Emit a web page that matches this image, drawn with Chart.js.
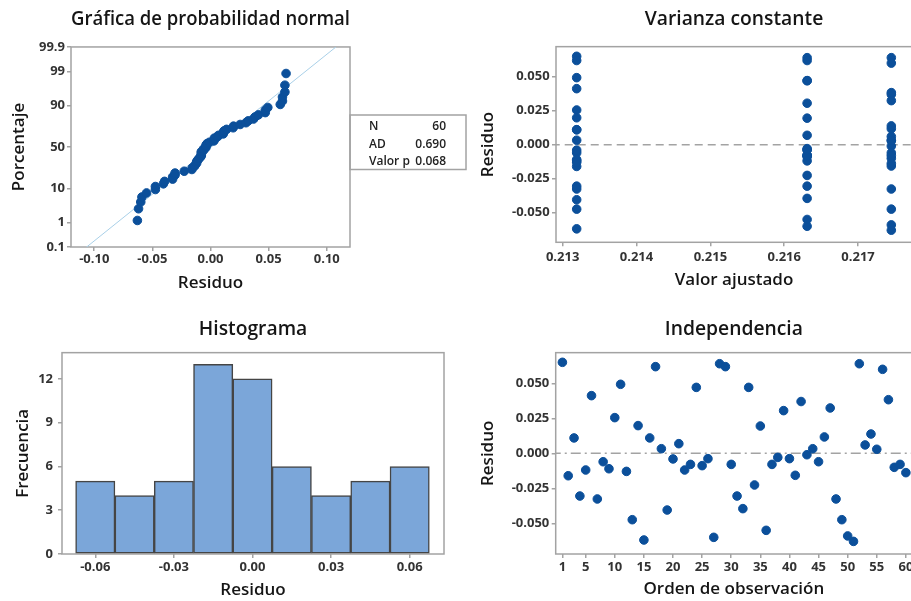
<!DOCTYPE html>
<html>
<head>
<meta charset="utf-8">
<script src="https://cdn.jsdelivr.net/npm/chart.js@4.4.0/dist/chart.umd.min.js"></script>
<style>
  html, body { margin: 0; padding: 0; background: #fff; width: 911px; height: 601px; overflow: hidden; }
  .panel { position: absolute; }
</style>
</head>
<body>
<div class="panel" style="left:0;top:0"><canvas id="prob" width="470" height="300"></canvas></div>
<div class="panel" style="left:470px;top:0"><canvas id="fits" width="452" height="300"></canvas></div>
<div class="panel" style="left:0;top:300px"><canvas id="hist" width="460" height="301"></canvas></div>
<div class="panel" style="left:470px;top:300px"><canvas id="order" width="452" height="301"></canvas></div>
<script>
const residuals = [
  0.0650, -0.0160, 0.0110, -0.0305, -0.0119, 0.0412, -0.0326, -0.0060, -0.0110, 0.0255,
  0.0493, -0.0129, -0.0474, 0.0198, -0.0619, 0.0110, 0.0619, 0.0033, -0.0405, -0.0040,
  0.0069, -0.0119, -0.0079, 0.0471, -0.0088, -0.0038, -0.0600, 0.0640, 0.0619, -0.0079,
  -0.0305, -0.0395, 0.0471, -0.0226, 0.0195, -0.0550, -0.0079, -0.0029, 0.0305, -0.0038,
  -0.0157, 0.0370, -0.0010, 0.0033, -0.0060, 0.0117, 0.0324, -0.0326, -0.0474, -0.0590,
  -0.0629, 0.0640, 0.0060, 0.0138, 0.0029, 0.0600, 0.0383, -0.0100, -0.0079, -0.0138
];
// fitted value of each observation
const fitted = [
  0.21319, 0.21319, 0.21319, 0.21319, 0.21319, 0.21319, 0.21319, 0.21319, 0.21319, 0.21319,
  0.21319, 0.21319, 0.21319, 0.21319, 0.21319, 0.21319, 0.21319, 0.21319, 0.21319, 0.21319,
  0.21631, 0.21631, 0.21631, 0.21631, 0.21631, 0.21631, 0.21631, 0.21631, 0.21631, 0.21631,
  0.21631, 0.21631, 0.21631, 0.21631, 0.21631, 0.21631, 0.21631, 0.21631, 0.21631, 0.21631,
  0.21745, 0.21745, 0.21745, 0.21745, 0.21745, 0.21745, 0.21745, 0.21745, 0.21745, 0.21745,
  0.21745, 0.21745, 0.21745, 0.21745, 0.21745, 0.21745, 0.21745, 0.21745, 0.21745, 0.21745
];
const binCenters = [-0.06, -0.045, -0.03, -0.015, 0, 0.015, 0.03, 0.045, 0.06];
const binCounts = [5, 4, 5, 13, 12, 6, 4, 5, 6];

const probTickPct = [0.1, 1, 10, 50, 90, 99, 99.9];
const probTickLabels = ["0.1", "1", "10", "50", "90", "99", "99.9"];
const probXTicks = [-0.10, -0.05, 0.00, 0.05, 0.10];
const fitsXTicks = [0.213, 0.214, 0.215, 0.216, 0.217];
const residTicks = [-0.050, -0.025, 0.000, 0.025, 0.050];
const histXTicks = [-0.06, -0.03, 0.00, 0.03, 0.06];
const histYTicks = [0, 3, 6, 9, 12];
const orderTicks = [1, 5, 10, 15, 20, 25, 30, 35, 40, 45, 50, 55, 60];

const statLabels = ["N", "AD", "Valor p"];
const statValues = ["60", "0.690", "0.068"];

const dotColor = "#0b4f9a";
const frameColor = "#a3a3a3";
const tickColor = "#333333";

Chart.defaults.font.family = '"Open Sans", sans-serif';
Chart.defaults.color = tickColor;

// inverse normal cdf (Acklam)
function normInv(p) {
  const a = [-39.69683028665376, 220.9460984245205, -275.9285104469687, 138.3577518672690, -30.66479806614716, 2.506628277459239];
  const b = [-54.47609879822406, 161.5858368580409, -155.6989798598866, 66.80131188771972, -13.28068155288572];
  const c = [-0.007784894002430293, -0.3223964580411365, -2.400758277161838, -2.549671011962100, 4.374664141464968, 2.938163982698783];
  const d = [0.007784695709041462, 0.3224671290700398, 2.445134137142996, 3.754408661907416];
  const pl = 0.02425;
  let q, r;
  if (p < pl) {
    q = Math.sqrt(-2 * Math.log(p));
    return (((((c[0]*q+c[1])*q+c[2])*q+c[3])*q+c[4])*q+c[5]) / ((((d[0]*q+d[1])*q+d[2])*q+d[3])*q+1);
  }
  if (p <= 1 - pl) {
    q = p - 0.5; r = q * q;
    return (((((a[0]*r+a[1])*r+a[2])*r+a[3])*r+a[4])*r+a[5])*q / (((((b[0]*r+b[1])*r+b[2])*r+b[3])*r+b[4])*r+1);
  }
  q = Math.sqrt(-2 * Math.log(1 - p));
  return -(((((c[0]*q+c[1])*q+c[2])*q+c[3])*q+c[4])*q+c[5]) / ((((d[0]*q+d[1])*q+d[2])*q+d[3])*q+1);
}

// probability plot points: sorted residuals vs median rank
const n = residuals.length;
const sorted = residuals.slice().sort((u, v) => u - v);
const probPoints = sorted.map((r, i) => ({ x: r, y: normInv((i + 1 - 0.3) / (n + 0.4)) }));
const mean = residuals.reduce((s, v) => s + v, 0) / n;
const sd = Math.sqrt(residuals.reduce((s, v) => s + (v - mean) ** 2, 0) / (n - 1));
const fitLine = [-3.5, 3.5].map(z => ({ x: mean + sd * z, y: z }));

const frame = {
  id: "frame",
  beforeDatasetsDraw(chart) {
    const a = chart.chartArea, ctx = chart.ctx;
    ctx.save();
    ctx.strokeStyle = frameColor;
    ctx.lineWidth = 1.5;
    ctx.strokeRect(a.left, a.top, a.right - a.left, a.bottom - a.top);
    ctx.restore();
  }
};

const statsBox = {
  id: "statsBox",
  afterDraw(chart) {
    const ctx = chart.ctx;
    ctx.save();
    ctx.strokeStyle = frameColor;
    ctx.lineWidth = 1.5;
    ctx.strokeRect(350, 115, 116, 54.5);
    ctx.fillStyle = "#222";
    ctx.font = '600 12px "Open Sans", sans-serif';
    ctx.textBaseline = "middle";
    statLabels.forEach((lab, i) => {
      const y = 127 + i * 17.3;
      ctx.textAlign = "left";
      ctx.fillText(lab, 369, y);
      ctx.textAlign = "right";
      ctx.fillText(statValues[i], 446, y);
    });
    ctx.restore();
  }
};

function titleOpts(text, top, bottom) {
  return { display: true, fullSize: false, text: text, color: "#151515",
    font: { size: 19.3, weight: "600" }, padding: { top: top, bottom: bottom } };
}

function axis(opts) {
  return {
    type: "linear",
    position: opts.position,
    min: opts.min,
    max: opts.max,
    offset: false,
    afterBuildTicks: (s) => { s.ticks = opts.ticks.map(v => ({ value: v })); },
    afterFit: (s) => { if (opts.position === "left") s.width = opts.size; else s.height = opts.size; },
    grid: { display: true, drawOnChartArea: false, drawTicks: true, tickLength: 4, color: frameColor, lineWidth: 1.5, offset: false },
    border: { display: false },
    ticks: {
      autoSkip: false, maxRotation: 0, padding: opts.tickPad,
      color: tickColor, font: { size: 13, weight: "700" },
      callback: opts.label
    },
    title: {
      display: true, text: opts.title, color: "#151515",
      font: { size: 17, weight: "600" },
      padding: opts.position === "left" ? { top: opts.titlePad, bottom: 0 } : { top: 0, bottom: opts.titlePad }
    }
  };
}

const common = {
  responsive: false,
  animation: false,
  devicePixelRatio: 1,
  plugins: { legend: { display: false }, tooltip: { enabled: false } }
};

// Normal probability plot
new Chart(document.getElementById("prob"), {
  type: "scatter",
  data: {
    datasets: [
      { data: fitLine, showLine: true, borderColor: "#a9d0e8", borderWidth: 1, pointRadius: 0, order: 2 },
      { data: probPoints, backgroundColor: dotColor, borderColor: dotColor, pointRadius: 4.3, order: 1 }
    ]
  },
  options: {
    ...common,
    layout: { padding: { left: 0, top: 0, right: 120, bottom: 0 } },
    plugins: { ...common.plugins, title: titleOpts("Gráfica de probabilidad normal", 8.2, 15.6) },
    scales: {
      x: axis({ position: "bottom", min: -0.12, max: 0.12, ticks: probXTicks, size: 53, tickPad: 0.2,
        title: "Residuo", titlePad: 6.8, label: v => v.toFixed(2) }),
      y: axis({ position: "left", min: normInv(0.001), max: normInv(0.999),
        ticks: probTickPct.map(p => normInv(p / 100)), size: 71, tickPad: 2,
        title: "Porcentaje", titlePad: 8.8, label: (v, i) => probTickLabels[i] })
    }
  },
  plugins: [frame, statsBox]
});

// Residuals vs fits
new Chart(document.getElementById("fits"), {
  type: "scatter",
  data: {
    datasets: [
      { data: [{ x: 0.2125, y: 0 }, { x: 0.2185, y: 0 }], showLine: true, borderColor: "#a3a3a3",
        borderWidth: 1.5, borderDash: [8, 5], pointRadius: 0, order: 2 },
      { data: residuals.map((r, i) => ({ x: fitted[i], y: r })), backgroundColor: dotColor,
        borderColor: dotColor, pointRadius: 4.3, order: 1 }
    ]
  },
  options: {
    ...common,
    layout: { padding: { left: 0, top: 0, right: 10, bottom: 0 } },
    plugins: { ...common.plugins, title: titleOpts("Varianza constante", 8.2, 15.3) },
    scales: {
      x: axis({ position: "bottom", min: 0.21291, max: 0.21773, ticks: fitsXTicks, size: 57.7, tickPad: 2.9,
        title: "Valor ajustado", titlePad: 9.8, label: v => v.toFixed(3) }),
      y: axis({ position: "left", min: -0.0718, max: 0.0721, ticks: residTicks, size: 86, tickPad: 2.4,
        title: "Residuo", titlePad: 7.8, label: v => v.toFixed(3) })
    }
  },
  plugins: [frame]
});

// Histogram
new Chart(document.getElementById("hist"), {
  type: "bar",
  data: {
    datasets: [{
      data: binCenters.map((c, i) => ({ x: c, y: binCounts[i] })),
      backgroundColor: "#7ba6d9", borderColor: "#454545", borderWidth: 1.5,
      borderSkipped: false, barPercentage: 1, categoryPercentage: 1
    }]
  },
  options: {
    ...common,
    layout: { padding: { left: 0, top: 0, right: 16, bottom: 0 } },
    plugins: { ...common.plugins, title: titleOpts("Histograma", 18.4, 11.1) },
    scales: {
      x: axis({ position: "bottom", min: -0.0727, max: 0.0731, ticks: histXTicks, size: 47, tickPad: 1.2,
        title: "Residuo", titlePad: 0.8, label: v => v.toFixed(2) }),
      y: axis({ position: "left", min: 0, max: 13.8, ticks: histYTicks, size: 62, tickPad: 5,
        title: "Frecuencia", titlePad: 12.8, label: v => String(v) })
    }
  },
  plugins: [frame]
});

// Residuals vs order
new Chart(document.getElementById("order"), {
  type: "scatter",
  data: {
    datasets: [
      { data: [{ x: -1, y: 0 }, { x: 62, y: 0 }], showLine: true, borderColor: "#a3a3a3",
        borderWidth: 1.5, borderDash: [10, 4, 2, 4], pointRadius: 0, order: 2 },
      { data: residuals.map((r, i) => ({ x: i + 1, y: r })), backgroundColor: dotColor,
        borderColor: dotColor, pointRadius: 4.3, order: 1 }
    ]
  },
  options: {
    ...common,
    layout: { padding: { left: 0, top: 0, right: 10, bottom: 0 } },
    plugins: { ...common.plugins, title: titleOpts("Independencia", 18.4, 11.1) },
    scales: {
      x: axis({ position: "bottom", min: -0.15, max: 61.05, ticks: orderTicks, size: 47, tickPad: 1.2,
        title: "Orden de observación", titlePad: 1.8, label: v => String(v) }),
      y: axis({ position: "left", min: -0.0719, max: 0.0719, ticks: residTicks, size: 85.7, tickPad: 2.4,
        title: "Residuo", titlePad: 7.8, label: v => v.toFixed(3) })
    }
  },
  plugins: [frame]
});
</script>
</body>
</html>
